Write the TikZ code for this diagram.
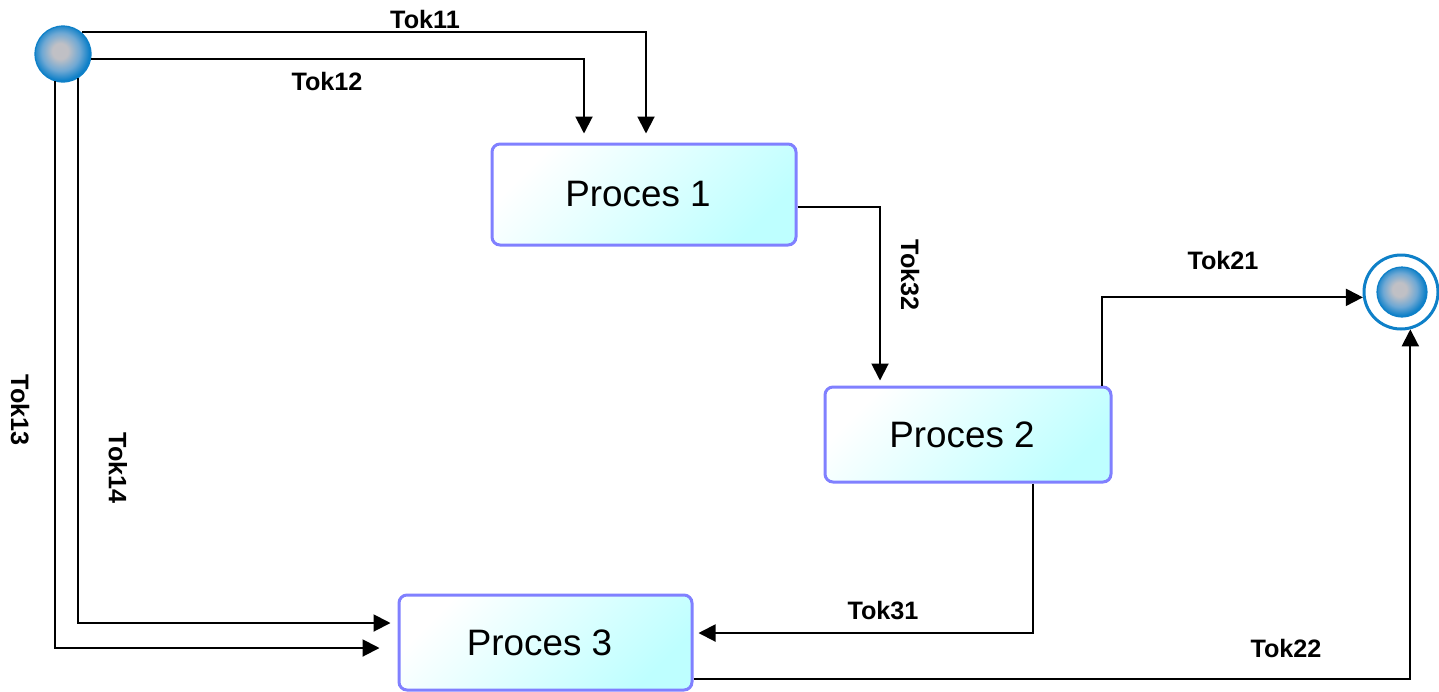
\documentclass[tikz,border=0pt]{standalone}
\usepackage{fontspec}
\setmainfont{Liberation Sans}
\usetikzlibrary{arrows.meta}
\definecolor{ProcBorder}{RGB}{128,128,255}
\definecolor{ProcFill}{RGB}{190,255,255}
\definecolor{EventBlue}{RGB}{14,128,200}
\definecolor{EventMid}{RGB}{110,168,212}
\definecolor{EventGrey}{RGB}{192,192,197}
\pgfdeclareradialshading{eventshade}{\pgfpoint{-3bp}{3bp}}{%
    color(0bp)=(EventGrey); color(7bp)=(EventGrey); color(17bp)=(EventMid);
    color(25bp)=(EventBlue); color(50bp)=(EventBlue)}

\begin{document}
\begin{tikzpicture}[x=0.5pt, y=-0.5pt,
        process/.style={rectangle, rounded corners=4pt, draw=ProcBorder, line width=1.5pt,
            top color=white, bottom color=ProcFill, shading angle=45,
            inner sep=0pt, font=\fontsize{18.4}{22}\selectfont,
            execute at end node=\hspace{6pt}},
        event/.style={circle, inner sep=0pt, draw=EventBlue, line width=0.6pt,
            shade, shading=eventshade},
        ring/.style={circle, inner sep=0pt, draw=EventBlue, line width=1.5pt, fill=white},
        flow/.style={draw, line width=1pt, -{Triangle[length=8.5pt, width=8.5pt]}},
        tok/.style={inner sep=0pt, font=\bfseries\fontsize{12.6}{15}\selectfont}]
    \useasboundingbox (0,0) rectangle (1439,691);

    % events
    \node[event, minimum size=28pt] (start) at (63,54) {};
    \node[ring, minimum size=37pt] (finish) at (1401,292) {};
    \node[event, minimum size=25pt] (finishcore) at (1402,292) {};

    % processes
    \node[process, minimum width=152pt, minimum height=50.5pt] (proc1) at (644,194.5) {Proces 1};
    \node[process, minimum width=143pt, minimum height=47.5pt] (proc2) at (968,434.5) {Proces 2};
    \node[process, minimum width=146.5pt, minimum height=47.5pt] (proc3) at (545.5,642.5) {Proces 3};

    % flows
    \draw[flow, shorten >=4.5pt] (start.49) -| ([xshift=1pt]proc1.north);
    \draw[flow, shorten >=4.5pt] (start.-10) -| ([xshift=-30pt]proc1.north);
    \draw[flow, shorten >=9pt] (start.253) |- ([yshift=-2.75pt]proc3.west);
    \draw[flow, shorten >=3.5pt] (start.-58) |- ([yshift=9.75pt]proc3.west);
    \draw[flow, shorten >=2.5pt] ([yshift=-6pt]proc1.east) -| ([xshift=-44pt]proc2.north);
    \draw[flow] ([xshift=-5.5pt]proc2.north east) |- (finish.188);
    \draw[flow] ([yshift=-18.25pt]proc3.east) -| (finish.-76);
    \draw[flow, shorten >=2.5pt] ([xshift=32.25pt]proc2.south) |- ([yshift=4.75pt]proc3.east);

    % labels
    \node[tok] (lab11) at (425,19) {Tok11};
    \node[tok] (lab12) at (327,81) {Tok12};
    \node[tok, rotate=-90] (lab13) at (20,410) {Tok13};
    \node[tok, rotate=-90] (lab14) at (118,468) {Tok14};
    \node[tok, rotate=-90] (lab32) at (910,275) {Tok32};
    \node[tok] (lab21) at (1223,260) {Tok21};
    \node[tok] (lab31) at (883,611) {Tok31};
    \node[tok] (lab22) at (1286,648) {Tok22};
\end{tikzpicture}
\end{document}
